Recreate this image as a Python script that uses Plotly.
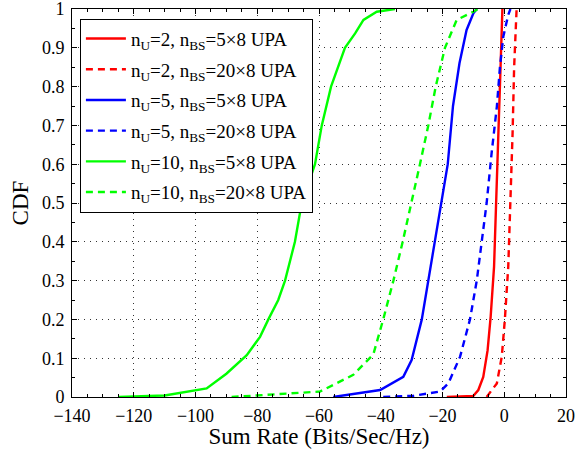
import plotly.graph_objects as go

# ---- data ----
cdf_red_solid_x = [-18.6, -10.0, -8.4, -6.8, -5.4, -4.4, -3.3, -2.7, -1.9, -1.2, -0.6]
cdf_red_solid_y = [0.0, 0.003, 0.018, 0.052, 0.12, 0.207, 0.336, 0.508, 0.68, 0.85, 1.0]

cdf_red_dash_x = [-5.7, -2.4, -0.8, 0.2, 1.3, 2.1, 2.7, 3.2, 3.8, 4.0]
cdf_red_dash_y = [0.0, 0.035, 0.104, 0.2, 0.336, 0.508, 0.68, 0.85, 0.98, 1.0]

cdf_blue_solid_x = [-55.4, -40.2, -32.7, -30.0, -26.7, -24.6, -22.4, -20.3, -18.3, -16.6, -14.5, -12.2, -10.0, -8.9]
cdf_blue_solid_y = [0.0, 0.018, 0.052, 0.095, 0.2, 0.3, 0.4, 0.5, 0.6, 0.75, 0.86, 0.946, 0.989, 1.0]

cdf_blue_dash_x = [-39.2, -29.5, -20.8, -18.1, -14.3, -11.1, -8.9, -7.3, -5.7, -4.1, -2.4, -1.4, -0.3, 1.3, 2.0]
cdf_blue_dash_y = [0.0, 0.003, 0.014, 0.035, 0.104, 0.2, 0.3, 0.396, 0.5, 0.628, 0.748, 0.85, 0.929, 0.985, 1.0]

cdf_green_solid_x = [-125.0, -110.0, -96.4, -90.0, -83.4, -79.1, -76.4, -73.2, -71.0, -67.8, -65.6, -61.3, -59.1, -56.1, -51.6, -48.3, -45.6, -41.3, -35.4]
cdf_green_solid_y = [0.0, 0.004, 0.022, 0.06, 0.108, 0.155, 0.2, 0.25, 0.3, 0.4, 0.5, 0.6, 0.7, 0.8, 0.9, 0.937, 0.972, 0.993, 1.0]

cdf_green_dash_x = [-88.3, -77.0, -59.7, -48.9, -42.4, -39.2, -35.9, -32.9, -30.0, -27.3, -24.6, -22.2, -19.2, -15.4, -10.0, -8.5]
cdf_green_dash_y = [0.0, 0.006, 0.014, 0.057, 0.11, 0.2, 0.3, 0.4, 0.5, 0.6, 0.7, 0.8, 0.9, 0.972, 0.993, 1.0]

labels = [
    "n<sub>U</sub>=2, n<sub>BS</sub>=5×8 UPA",
    "n<sub>U</sub>=2, n<sub>BS</sub>=20×8 UPA",
    "n<sub>U</sub>=5, n<sub>BS</sub>=5×8 UPA",
    "n<sub>U</sub>=5, n<sub>BS</sub>=20×8 UPA",
    "n<sub>U</sub>=10, n<sub>BS</sub>=5×8 UPA",
    "n<sub>U</sub>=10, n<sub>BS</sub>=20×8 UPA",
]
x_ticks = [-140, -120, -100, -80, -60, -40, -20, 0, 20]
y_ticks = [0, 0.1, 0.2, 0.3, 0.4, 0.5, 0.6, 0.7, 0.8, 0.9, 1]

series = [
    (cdf_red_solid_x, cdf_red_solid_y, "#ff0000", "solid"),
    (cdf_red_dash_x, cdf_red_dash_y, "#ff0000", "dash"),
    (cdf_blue_solid_x, cdf_blue_solid_y, "#0000ff", "solid"),
    (cdf_blue_dash_x, cdf_blue_dash_y, "#0000ff", "dash"),
    (cdf_green_solid_x, cdf_green_solid_y, "#00ff00", "solid"),
    (cdf_green_dash_x, cdf_green_dash_y, "#00ff00", "dash"),
]

fig = go.Figure()
for i, ((xs, ys, col, dash), name) in enumerate(zip(series, labels)):
    fig.add_trace(go.Scatter(x=xs, y=ys, mode="lines", name=name, legendgroup=f"g{i}",
                             line=dict(color=col, width=2.4,
                                       dash="7px,5px" if dash == "dash" else "solid")))

font = "Liberation Serif, Times New Roman, serif"
grid = dict(showgrid=True, gridcolor="#333", griddash="1px,5px", gridwidth=1)
fig.update_layout(
    width=582, height=449,
    margin=dict(l=72, r=16, t=9, b=52),
    paper_bgcolor="white", plot_bgcolor="white",
    font=dict(family=font, size=18, color="black"),
    showlegend=True,
    legend=dict(x=0.016, y=0.975, xanchor="left", yanchor="top",
                bgcolor="white", bordercolor="black", borderwidth=1,
                font=dict(family=font, size=19, color="black"),
                tracegroupgap=3, itemwidth=40),
    xaxis=dict(range=[-140, 20], tickvals=x_ticks,
               ticktext=[str(v).replace("-", "−") for v in x_ticks],
               ticks="inside", ticklen=5, tickcolor="black", ticklabelstandoff=2,
               ticklabeloverflow="allow",
               minor=dict(dtick=5, ticks="inside", ticklen=3, tickcolor="black", showgrid=False),
               showline=True, linecolor="black", linewidth=1, mirror="ticks",
               zeroline=False, automargin=False,
               title=dict(text="Sum Rate (Bits/Sec/Hz)", font=dict(size=23), standoff=3),
               tickfont=dict(size=18), **grid),
    yaxis=dict(range=[0, 1], tickvals=y_ticks,
               ticktext=["0", "0.1", "0.2", "0.3", "0.4", "0.5", "0.6", "0.7", "0.8", "0.9", "1"],
               ticks="inside", ticklen=5, tickcolor="black", ticklabelstandoff=3,
               ticklabeloverflow="allow",
               minor=dict(dtick=0.05, ticks="inside", ticklen=3, tickcolor="black", showgrid=False),
               showline=True, linecolor="black", linewidth=1, mirror="ticks",
               zeroline=False, automargin=False,
               title=dict(text="CDF", font=dict(size=23), standoff=6),
               tickfont=dict(size=18), **grid),
)
fig.write_html("out.html")
